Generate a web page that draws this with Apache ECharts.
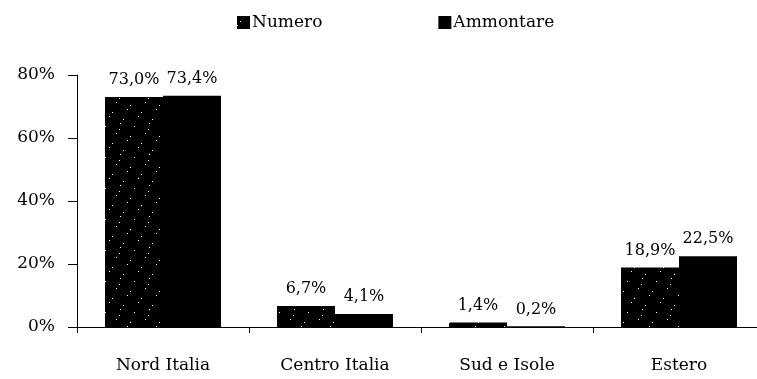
<!DOCTYPE html>
<html>
<head>
<meta charset="utf-8">
<script src="https://cdn.jsdelivr.net/npm/echarts@6/dist/echarts.min.js"></script>
<style>
  html, body { margin: 0; padding: 0; background: #fff; }
  #chart { width: 757px; height: 379px; }
</style>
</head>
<body>
<div id="chart"></div>
<script>
// Distribuzione per area geografica (percentuali)
const categories = ['Nord Italia', 'Centro Italia', 'Sud e Isole', 'Estero'];
const numero = [73.0, 6.7, 1.4, 18.9];
const ammontare = [73.4, 4.1, 0.2, 22.5];
const yTicks = [0, 20, 40, 60, 80];

const FONT = 'DejaVu Serif';

// Stippled fill: black tile with scattered white specks
function stipple() {
  const c = document.createElement('canvas');
  c.width = 29; c.height = 31;
  const g = c.getContext('2d');
  g.fillStyle = '#000';
  g.fillRect(0, 0, c.width, c.height);
  g.fillStyle = '#fff';
  for (let i = 0; i < 9; i++) {
    const x = (i * 11 + 3) % c.width;
    const y = (i * 7 + 5) % c.height;
    g.fillRect(x, y, 1, 1);
  }
  return { image: c, repeat: 'repeat' };
}

const chart = echarts.init(document.getElementById('chart'), null, { renderer: 'canvas' });

const labelOpt = {
  show: true,
  position: 'top',
  distance: 9,
  color: '#000',
  fontFamily: FONT,
  fontSize: 16,
  formatter: p => p.value.toFixed(1).replace('.', ',') + '%'
};

chart.setOption({
  animation: false,
  backgroundColor: '#fff',
  textStyle: { fontFamily: FONT, color: '#000' },
  legend: {
    top: 9,
    left: 232,
    icon: 'rect',
    itemWidth: 13,
    itemHeight: 13,
    itemGap: 116,
    textStyle: { fontFamily: FONT, fontSize: 17, color: '#000', padding: [0, 0, 0, -3] },
    data: ['Numero', 'Ammontare']
  },
  grid: {
    left: 77, top: 75, width: 688, height: 252,
    outerBoundsMode: 'none',
    containLabel: false
  },
  xAxis: {
    type: 'category',
    data: categories,
    axisLine: { lineStyle: { color: '#000', width: 1 } },
    axisTick: { show: true, length: 6, lineStyle: { color: '#000' } },
    axisLabel: { margin: 30, fontFamily: FONT, fontSize: 17, color: '#000' }
  },
  yAxis: {
    type: 'value',
    min: yTicks[0],
    max: yTicks[yTicks.length - 1],
    interval: 20,
    splitLine: { show: false },
    axisLine: { show: true, lineStyle: { color: '#000', width: 1 } },
    axisTick: { show: true, length: 9, lineStyle: { color: '#000' } },
    axisLabel: {
      margin: 22,
      fontFamily: FONT,
      fontSize: 17,
      color: '#000',
      formatter: v => v + '%'
    }
  },
  series: [
    {
      name: 'Numero',
      type: 'bar',
      data: numero,
      barWidth: 58,
      barGap: '0%',
      itemStyle: { color: stipple() },
      label: labelOpt
    },
    {
      name: 'Ammontare',
      type: 'bar',
      data: ammontare,
      barWidth: 58,
      itemStyle: { color: '#000' },
      label: labelOpt
    }
  ]
});
</script>
</body>
</html>
